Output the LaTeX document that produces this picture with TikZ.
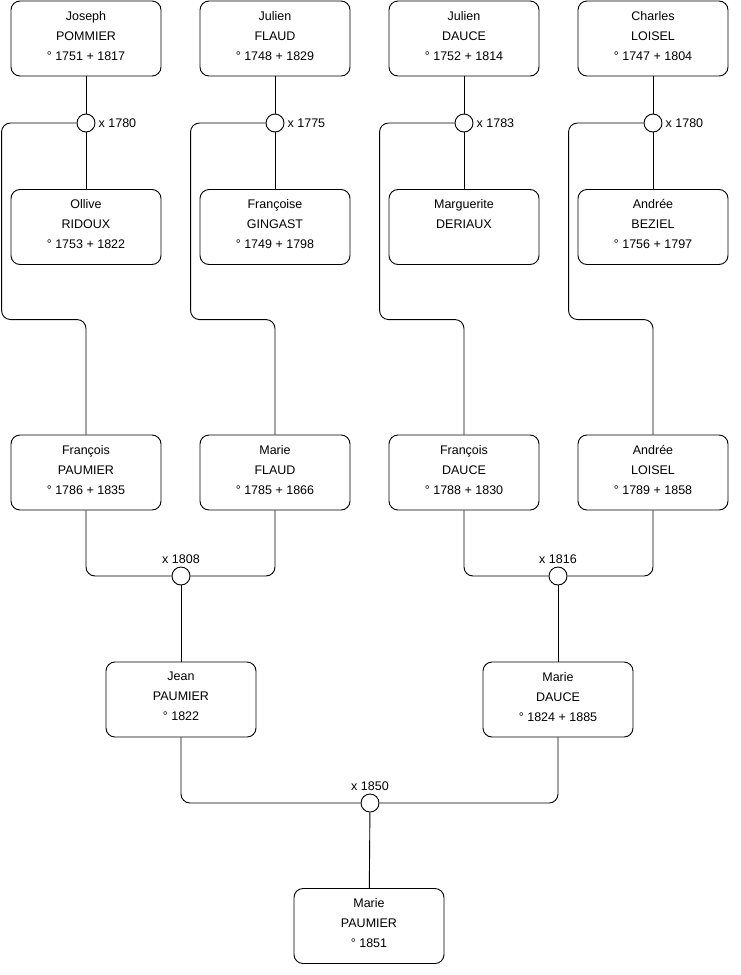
\documentclass[tikz,border=0pt]{standalone}
\usepackage{fontspec}
\setmainfont{Liberation Sans}
\usetikzlibrary{positioning}
\tikzset{
  person/.style={draw, rounded corners=9pt, minimum width=150pt, minimum height=75pt,
                 align=center, inner sep=0pt, line width=0.9pt, text depth=6pt,
                 font=\fontsize{12.5}{20}\selectfont},
  wed/.style={draw, circle, fill=white, minimum size=18pt, inner sep=0pt, line width=0.9pt},
  wedtext/.style={font=\fontsize{12.5}{14}\selectfont, inner sep=3pt},
  link/.style={line width=0.9pt, rounded corners=9pt}
}
\begin{document}
\begin{tikzpicture}[x=1pt,y=-1pt]
\useasboundingbox (0,0) rectangle (740,975);
% grandparents
\node[person] (jpommier) at (86,38.5)  {Joseph\\POMMIER\\° 1751 + 1817};
\node[person] (jflaud)   at (275,38.5) {Julien\\FLAUD\\° 1748 + 1829};
\node[person] (jdauce)   at (464,38.5) {Julien\\DAUCE\\° 1752 + 1814};
\node[person] (cloisel)  at (653,38.5) {Charles\\LOISEL\\° 1747 + 1804};
\node[person] (oridoux)  at (86,227)   {Ollive\\RIDOUX\\° 1753 + 1822};
\node[person] (fgingast) at (275,227)  {Françoise\\GINGAST\\° 1749 + 1798};
\node[person] (mderiaux) at (464,227)  {Marguerite\\DERIAUX\\~};
\node[person] (abeziel)  at (653,227)  {Andrée\\BEZIEL\\° 1756 + 1797};
% marriages, first row
\node[wed, label={[wedtext]right:x 1780}] (w1780a) at (86,123)  {};
\node[wed, label={[wedtext]right:x 1775}] (w1775)  at (275,123) {};
\node[wed, label={[wedtext]right:x 1783}] (w1783)  at (464,123) {};
\node[wed, label={[wedtext]right:x 1780}] (w1780b) at (653,123) {};
% parents
\node[person] (fpaumier) at (86,472.5)  {François\\PAUMIER\\° 1786 + 1835};
\node[person] (mflaud)   at (275,472.5) {Marie\\FLAUD\\° 1785 + 1866};
\node[person] (fdauce)   at (464,472.5) {François\\DAUCE\\° 1788 + 1830};
\node[person] (aloisel)  at (653,472.5) {Andrée\\LOISEL\\° 1789 + 1858};
\node[wed, label={[wedtext]above:x 1808}] (w1808) at (181,576) {};
\node[wed, label={[wedtext]above:x 1816}] (w1816) at (558,576) {};
\node[person] (jpaumier) at (181,699.5) {Jean\\PAUMIER\\° 1822};
\node[person] (mdauce)   at (558,699.5) {Marie\\DAUCE\\° 1824 + 1885};
\node[wed, label={[wedtext]above:x 1850}] (w1850) at (370,803) {};
\node[person] (mpaumier) at (369,926) {Marie\\PAUMIER\\° 1851};
% couples
\foreach \h/\w/\f in {jpommier/w1780a/oridoux, jflaud/w1775/fgingast,
                      jdauce/w1783/mderiaux, cloisel/w1780b/abeziel}{
  \draw[link] (\h) -- (\w);
  \draw[link] (\w) -- (\f);
}
% children of the first row
\draw[link] (w1780a.west) -- ++(-75,0) |- ([yshift=115pt]fpaumier.north) -- (fpaumier.north);
\draw[link] (w1775.west)  -- ++(-75,0) |- ([yshift=115pt]mflaud.north) -- (mflaud.north);
\draw[link] (w1783.west)  -- ++(-75,0) |- ([yshift=115pt]fdauce.north) -- (fdauce.north);
\draw[link] (w1780b.west) -- ++(-75,0) |- ([yshift=115pt]aloisel.north) -- (aloisel.north);
% lower generations
\draw[link] (fpaumier.south) |- (w1808.west);
\draw[link] (mflaud.south)   |- (w1808.east);
\draw[link] (w1808) -- (jpaumier);
\draw[link] (fdauce.south)   |- (w1816.west);
\draw[link] (aloisel.south)  |- (w1816.east);
\draw[link] (w1816) -- (mdauce);
\draw[link] (jpaumier.south) |- (w1850.west);
\draw[link] (mdauce.south)   |- (w1850.east);
\draw[link] (w1850) -- (mpaumier);
\end{tikzpicture}
\end{document}
